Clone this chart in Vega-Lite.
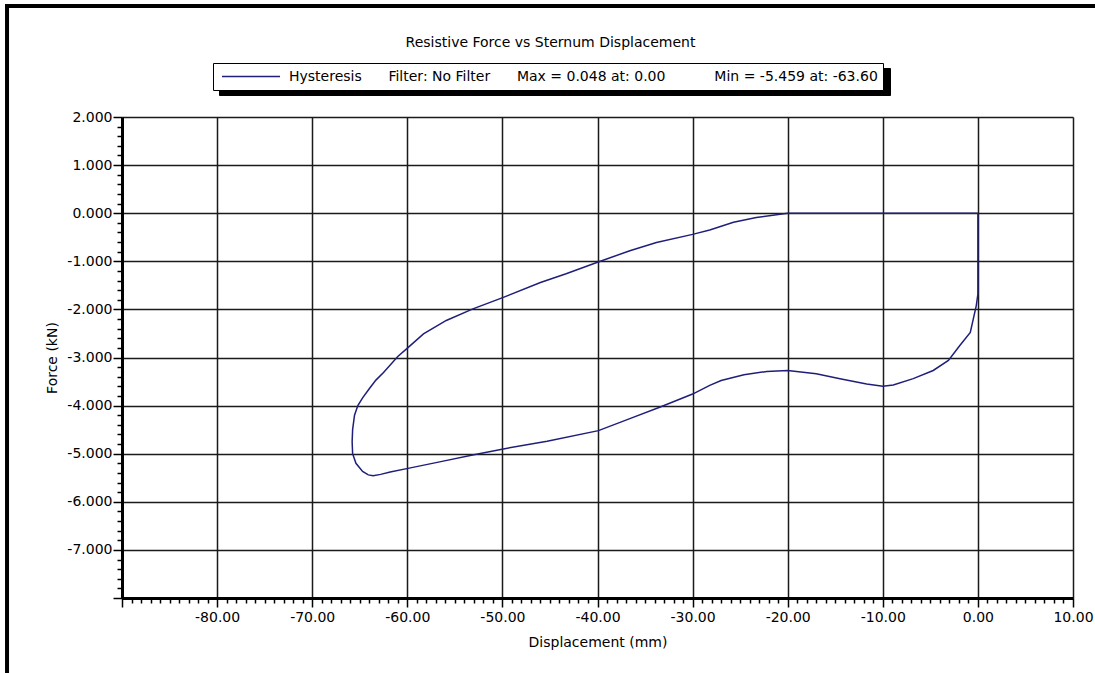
{
  "$schema": "https://vega.github.io/schema/vega-lite/v6.json",
  "autosize": {"type": "none"},
  "padding": {"left": 122, "top": 117, "right": 22, "bottom": 75},
  "width": 951,
  "height": 481,
  "background": "#ffffff",
  "title": {
    "text": "Resistive Force vs Sternum Displacement",
    "font": "DejaVu Sans",
    "fontSize": 14,
    "fontWeight": "normal",
    "color": "#000000",
    "anchor": "middle",
    "dx": -47,
    "dy": 52
  },
  "layer": [
    {
      "data": {
        "values": [
          {"i": 0, "x": 0, "y": 0, "series": "Hysteresis"},
          {"i": 1, "x": -5, "y": 0, "series": "Hysteresis"},
          {"i": 2, "x": -10, "y": 0, "series": "Hysteresis"},
          {"i": 3, "x": -15, "y": 0, "series": "Hysteresis"},
          {"i": 4, "x": -20, "y": 0, "series": "Hysteresis"},
          {"i": 5, "x": -20.8, "y": -0.02, "series": "Hysteresis"},
          {"i": 6, "x": -23.3, "y": -0.09, "series": "Hysteresis"},
          {"i": 7, "x": -25.7, "y": -0.19, "series": "Hysteresis"},
          {"i": 8, "x": -28.2, "y": -0.35, "series": "Hysteresis"},
          {"i": 9, "x": -30.0, "y": -0.44, "series": "Hysteresis"},
          {"i": 10, "x": -33.8, "y": -0.61, "series": "Hysteresis"},
          {"i": 11, "x": -36.6, "y": -0.78, "series": "Hysteresis"},
          {"i": 12, "x": -40.0, "y": -1.02, "series": "Hysteresis"},
          {"i": 13, "x": -43.3, "y": -1.26, "series": "Hysteresis"},
          {"i": 14, "x": -46.0, "y": -1.44, "series": "Hysteresis"},
          {"i": 15, "x": -49.9, "y": -1.75, "series": "Hysteresis"},
          {"i": 16, "x": -53.1, "y": -1.99, "series": "Hysteresis"},
          {"i": 17, "x": -55.9, "y": -2.23, "series": "Hysteresis"},
          {"i": 18, "x": -58.3, "y": -2.51, "series": "Hysteresis"},
          {"i": 19, "x": -59.9, "y": -2.79, "series": "Hysteresis"},
          {"i": 20, "x": -61.0, "y": -2.98, "series": "Hysteresis"},
          {"i": 21, "x": -62.5, "y": -3.31, "series": "Hysteresis"},
          {"i": 22, "x": -63.3, "y": -3.47, "series": "Hysteresis"},
          {"i": 23, "x": -64.0, "y": -3.65, "series": "Hysteresis"},
          {"i": 24, "x": -64.7, "y": -3.84, "series": "Hysteresis"},
          {"i": 25, "x": -65.2, "y": -4.0, "series": "Hysteresis"},
          {"i": 26, "x": -65.55, "y": -4.2, "series": "Hysteresis"},
          {"i": 27, "x": -65.75, "y": -4.5, "series": "Hysteresis"},
          {"i": 28, "x": -65.8, "y": -4.75, "series": "Hysteresis"},
          {"i": 29, "x": -65.75, "y": -5.0, "series": "Hysteresis"},
          {"i": 30, "x": -65.4, "y": -5.2, "series": "Hysteresis"},
          {"i": 31, "x": -64.7, "y": -5.37, "series": "Hysteresis"},
          {"i": 32, "x": -64.1, "y": -5.44, "series": "Hysteresis"},
          {"i": 33, "x": -63.6, "y": -5.459, "series": "Hysteresis"},
          {"i": 34, "x": -62.8, "y": -5.43, "series": "Hysteresis"},
          {"i": 35, "x": -61.8, "y": -5.38, "series": "Hysteresis"},
          {"i": 36, "x": -59.8, "y": -5.3, "series": "Hysteresis"},
          {"i": 37, "x": -56.6, "y": -5.17, "series": "Hysteresis"},
          {"i": 38, "x": -53.0, "y": -5.02, "series": "Hysteresis"},
          {"i": 39, "x": -49.9, "y": -4.9, "series": "Hysteresis"},
          {"i": 40, "x": -45.3, "y": -4.74, "series": "Hysteresis"},
          {"i": 41, "x": -39.9, "y": -4.52, "series": "Hysteresis"},
          {"i": 42, "x": -36.6, "y": -4.27, "series": "Hysteresis"},
          {"i": 43, "x": -33.4, "y": -4.03, "series": "Hysteresis"},
          {"i": 44, "x": -30.0, "y": -3.76, "series": "Hysteresis"},
          {"i": 45, "x": -28.2, "y": -3.58, "series": "Hysteresis"},
          {"i": 46, "x": -27.0, "y": -3.48, "series": "Hysteresis"},
          {"i": 47, "x": -24.6, "y": -3.36, "series": "Hysteresis"},
          {"i": 48, "x": -22.2, "y": -3.29, "series": "Hysteresis"},
          {"i": 49, "x": -20.0, "y": -3.27, "series": "Hysteresis"},
          {"i": 50, "x": -17.0, "y": -3.34, "series": "Hysteresis"},
          {"i": 51, "x": -14.5, "y": -3.44, "series": "Hysteresis"},
          {"i": 52, "x": -11.7, "y": -3.55, "series": "Hysteresis"},
          {"i": 53, "x": -10.0, "y": -3.6, "series": "Hysteresis"},
          {"i": 54, "x": -8.9, "y": -3.57, "series": "Hysteresis"},
          {"i": 55, "x": -6.8, "y": -3.44, "series": "Hysteresis"},
          {"i": 56, "x": -4.7, "y": -3.27, "series": "Hysteresis"},
          {"i": 57, "x": -3.1, "y": -3.06, "series": "Hysteresis"},
          {"i": 58, "x": -1.9, "y": -2.75, "series": "Hysteresis"},
          {"i": 59, "x": -0.8, "y": -2.48, "series": "Hysteresis"},
          {"i": 60, "x": -0.17, "y": -1.92, "series": "Hysteresis"},
          {"i": 61, "x": 0, "y": -1.68, "series": "Hysteresis"},
          {"i": 62, "x": 0, "y": 0, "series": "Hysteresis"}
        ]
      },
      "mark": {"type": "line", "strokeWidth": 1.5},
      "encoding": {
        "x": {
          "field": "x",
          "type": "quantitative",
          "scale": {"domain": [-90, 10], "nice": false, "zero": false},
          "axis": {
            "title": "Displacement (mm)",
            "values": [-90,-89,-88,-87,-86,-85,-84,-83,-82,-81,-80,-79,-78,-77,-76,-75,-74,-73,-72,-71,-70,-69,-68,-67,-66,-65,-64,-63,-62,-61,-60,-59,-58,-57,-56,-55,-54,-53,-52,-51,-50,-49,-48,-47,-46,-45,-44,-43,-42,-41,-40,-39,-38,-37,-36,-35,-34,-33,-32,-31,-30,-29,-28,-27,-26,-25,-24,-23,-22,-21,-20,-19,-18,-17,-16,-15,-14,-13,-12,-11,-10,-9,-8,-7,-6,-5,-4,-3,-2,-1,0,1,2,3,4,5,6,7,8,9,10],
            "tickCount": 500,
            "labelExpr": "datum.value % 10 === 0 && datum.value > -90 ? format(datum.value, '.2f') : ''",
            "labelOverlap": false,
            "labelFlush": false,
            "labelPadding": 3,
            "tickSize": {"condition": {"test": "datum.value % 10 === 0", "value": 9}, "value": 5},
            "grid": true,
            "gridOpacity": {"condition": {"test": "datum.value % 10 === 0", "value": 1}, "value": 0},
            "titleY": 44,
            "titleBaseline": "middle"
          }
        },
        "y": {
          "field": "y",
          "type": "quantitative",
          "scale": {"domain": [-8, 2], "nice": false, "zero": false},
          "axis": {
            "title": "Force (kN)",
            "values": [-8,-7.8,-7.6,-7.4,-7.2,-7,-6.8,-6.6,-6.4,-6.2,-6,-5.8,-5.6,-5.4,-5.2,-5,-4.8,-4.6,-4.4,-4.2,-4,-3.8,-3.6,-3.4,-3.2,-3,-2.8,-2.6,-2.4,-2.2,-2,-1.8,-1.6,-1.4,-1.2,-1,-0.8,-0.6,-0.4,-0.2,0,0.2,0.4,0.6,0.8,1,1.2,1.4,1.6,1.8,2],
            "tickCount": 500,
            "labelExpr": "abs(datum.value - round(datum.value)) < 0.01 && datum.value > -7.5 ? format(datum.value, '.3f') : ''",
            "labelOverlap": false,
            "labelFlush": false,
            "labelPadding": 1,
            "tickSize": {"condition": {"test": "abs(datum.value - round(datum.value)) < 0.01", "value": 9}, "value": 5},
            "grid": true,
            "gridOpacity": {"condition": {"test": "abs(datum.value - round(datum.value)) < 0.01", "value": 1}, "value": 0},
            "titleX": -70,
            "titleY": 240.5,
            "titleBaseline": "middle"
          }
        },
        "order": {"field": "i", "type": "quantitative"},
        "color": {
          "field": "series",
          "type": "nominal",
          "scale": {"domain": ["Hysteresis"], "range": ["#1f1f7a"]},
          "legend": {
            "orient": "none",
            "legendX": 91,
            "legendY": -54,
            "title": null,
            "padding": 5,
            "clipHeight": 17,
            "symbolType": "stroke",
            "symbolSize": 3364,
            "symbolStrokeWidth": 1.5,
            "symbolOffset": 3,
            "labelOffset": 8,
            "labelLimit": 2000,
            "labelExpr": "datum.label + '\u00a0\u00a0\u00a0\u00a0\u00a0\u00a0Filter: No Filter\u00a0\u00a0\u00a0\u00a0\u00a0\u00a0Max = 0.048 at: 0.00\u00a0\u00a0\u00a0\u00a0\u00a0\u00a0\u00a0\u00a0\u00a0\u00a0\u00a0Min = -5.459 at: -63.60'",
            "fillColor": "#ffffff",
            "strokeColor": "#000000",
            "zindex": 2
          }
        }
      }
    },
    {
      "data": {"values": [{"entry": "Hysteresis"}]},
      "mark": {"type": "point", "opacity": 0},
      "encoding": {
        "shape": {
          "field": "entry",
          "type": "nominal",
          "scale": {"range": ["stroke"]},
          "legend": {
            "orient": "none",
            "legendX": 97,
            "legendY": -49,
            "title": null,
            "padding": 5,
            "clipHeight": 17,
            "symbolSize": 422500,
            "symbolStrokeWidth": 0,
            "symbolStrokeColor": "#000000",
            "symbolOffset": 3,
            "labelOffset": 8,
            "labelExpr": "''",
            "fillColor": "#000000",
            "strokeColor": "#000000",
            "zindex": 1
          }
        }
      }
    },
    {
      "data": {"values": [{}]},
      "mark": {"type": "rule", "color": "#000000", "strokeWidth": 4},
      "encoding": {
        "x": {"datum": -102.09, "type": "quantitative", "scale": {"domain": [-90, 10], "nice": false, "zero": false}},
        "y": {"datum": 4.35, "type": "quantitative", "scale": {"domain": [-8, 2], "nice": false, "zero": false}},
        "y2": {"datum": -9.8}
      }
    },
    {
      "data": {"values": [{}]},
      "mark": {"type": "rule", "color": "#000000", "strokeWidth": 4},
      "encoding": {
        "x": {"datum": -102.3, "type": "quantitative", "scale": {"domain": [-90, 10], "nice": false, "zero": false}},
        "x2": {"datum": 12.9},
        "y": {"datum": 4.308, "type": "quantitative", "scale": {"domain": [-8, 2], "nice": false, "zero": false}}
      }
    }
  ],
  "config": {
    "view": {"stroke": null},
    "locale": {
      "number": {"decimal": ".", "thousands": ",", "grouping": [3], "currency": ["$", ""], "minus": "-"}
    },
    "font": "DejaVu Sans",
    "axis": {
      "labelFont": "DejaVu Sans",
      "labelFontSize": 14,
      "labelColor": "#000000",
      "titleFont": "DejaVu Sans",
      "titleFontSize": 14,
      "titleFontWeight": "normal",
      "titleColor": "#000000",
      "domainColor": "#000000",
      "domainWidth": 3,
      "tickColor": "#000000",
      "tickWidth": 1.5,
      "gridColor": "#1a1a1a",
      "gridWidth": 1.5
    },
    "legend": {
      "labelFont": "DejaVu Sans",
      "labelFontSize": 14,
      "labelColor": "#000000"
    }
  }
}
